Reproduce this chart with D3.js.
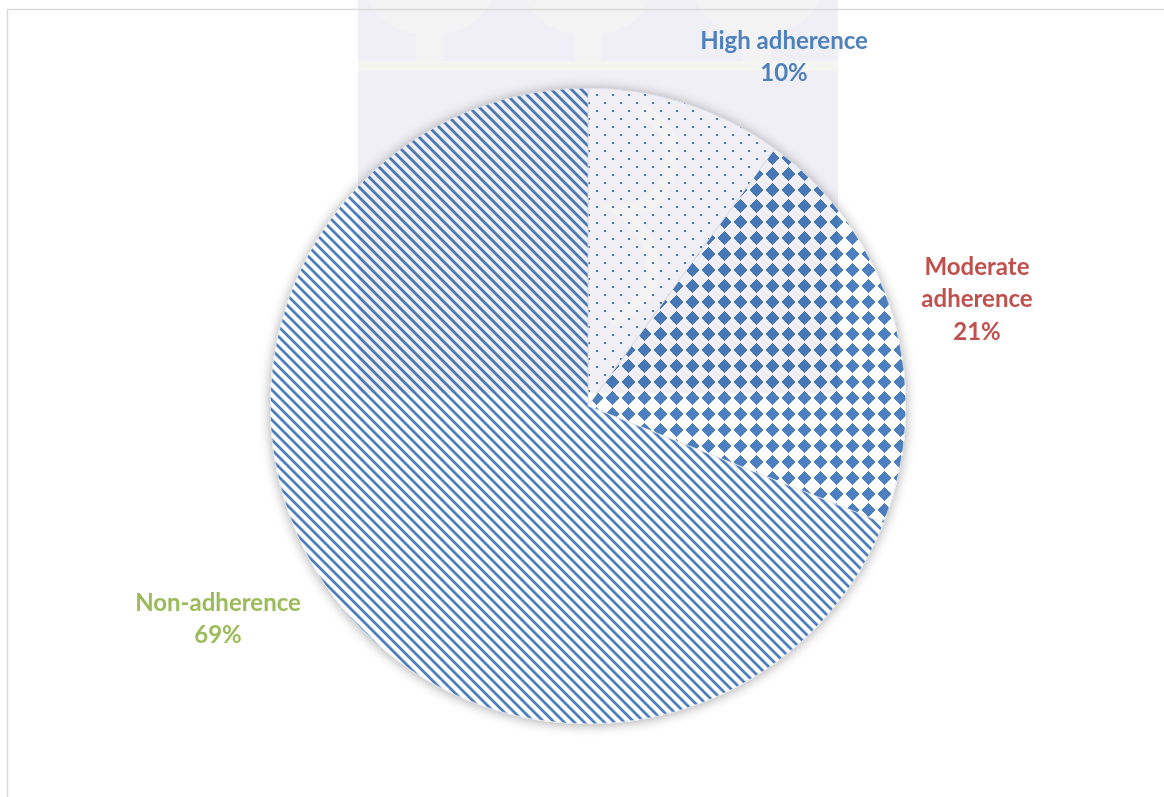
<!DOCTYPE html>
<html>
<head>
<meta charset="utf-8">
<script src="https://cdn.jsdelivr.net/npm/d3@7"></script>
<style>
  html, body { margin: 0; padding: 0; background: #ffffff; }
  svg { display: block; }
</style>
</head>
<body>
<svg id="chart" width="1164" height="797"></svg>
<script>
// ---- data ----
const categories = ["High adherence", "Moderate adherence", "Non-adherence"];
const values = [10, 21, 69];
const percentLabels = ["10%", "21%", "69%"];
const labelLines = [["High adherence"], ["Moderate", "adherence"], ["Non-adherence"]];
const labelColors = ["#4f81bd", "#c0504d", "#9bbb59"];
const patternIds = ["pDots", "pDiamonds", "pStripes"];

// ---- layout ----
const W = 1164, H = 797;
const cx = 588, cy = 406, R = 318;
const blue = "#4d7fbe";

const svg = d3.select("#chart");
const defs = svg.append("defs");

// drop shadow
const f = defs.append("filter").attr("id", "shadow")
  .attr("x", "-10%").attr("y", "-10%").attr("width", "120%").attr("height", "120%");
f.append("feDropShadow").attr("dx", 0).attr("dy", 1).attr("stdDeviation", 6)
  .attr("flood-color", "#000").attr("flood-opacity", 0.35);

// dots pattern
const pd = defs.append("pattern").attr("id", "pDots").attr("patternUnits", "userSpaceOnUse")
  .attr("width", 16).attr("height", 16);
pd.append("rect").attr("width", 16).attr("height", 16).attr("fill", "#fff");
pd.append("rect").attr("x", 0).attr("y", 0).attr("width", 2).attr("height", 2).attr("fill", blue);
pd.append("rect").attr("x", 8).attr("y", 8).attr("width", 2).attr("height", 2).attr("fill", blue);

// diamonds pattern
const pm = defs.append("pattern").attr("id", "pDiamonds").attr("patternUnits", "userSpaceOnUse")
  .attr("width", 16).attr("height", 16);
pm.append("rect").attr("width", 16).attr("height", 16).attr("fill", "#fff");
pm.append("path").attr("d", "M8,1 L15,8 L8,15 L1,8 Z")
  .attr("fill", blue).attr("shape-rendering", "crispEdges");

// stripes pattern
const ps = defs.append("pattern").attr("id", "pStripes").attr("patternUnits", "userSpaceOnUse")
  .attr("width", 10).attr("height", 10);
ps.append("rect").attr("width", 10).attr("height", 10).attr("fill", "#fff");
ps.append("path").attr("d", "M-2,-2 L12,12 M-2,8 L2,12 M8,-2 L12,2")
  .attr("stroke", blue).attr("stroke-width", 2.8).attr("fill", "none");

// ---- pie ----
const pie = d3.pie().sort(null).value(d => d)(values);
const arc = d3.arc().innerRadius(0).outerRadius(R);

const g = svg.append("g").attr("transform", `translate(${cx},${cy})`);
g.append("circle").attr("r", R).attr("fill", "#fff").attr("filter", "url(#shadow)");
g.selectAll("path.slice").data(pie).enter().append("path")
  .attr("class", "slice")
  .attr("d", arc)
  .attr("fill", (d, i) => `url(#${patternIds[i]})`)
  .attr("stroke", "#e4e4ea").attr("stroke-width", 0.8);

// ---- faint watermark overlay ----
const wm = svg.append("g").style("mix-blend-mode", "multiply");
wm.append("rect").attr("x", 358).attr("y", 0).attr("width", 480).attr("height", 393).attr("fill", "#efeff5");
const cream = "#f3f3f3";
wm.append("rect").attr("x", 358).attr("y", 61).attr("width", 480).attr("height", 10).attr("fill", "#f5f5f2");
[430, 588, 757].forEach(x => {
  wm.append("path")
    .attr("d", `M${x-62},0 Q${x-50},28 ${x-14},34 L${x-14},61 L${x+14},61 L${x+14},34 Q${x+50},28 ${x+62},0 Z`)
    .attr("fill", cream);
});
wm.append("path").attr("d", "M640,110 q40,20 30,60 q-10,40 -50,40 q40,30 30,70 q-8,30 -40,40")
  .attr("stroke", "#f3f3f3").attr("stroke-width", 14).attr("fill", "none");

// ---- border ----
svg.append("line").attr("x1", 7).attr("x2", W).attr("y1", 9.5).attr("y2", 9.5)
  .attr("stroke", "#d9d9d9").attr("stroke-width", 1.5);
svg.append("line").attr("x1", 7.5).attr("x2", 7.5).attr("y1", 9).attr("y2", H)
  .attr("stroke", "#d9d9d9").attr("stroke-width", 1.5);

// ---- labels ----
const fontFamily = "Lato, 'Open Sans', sans-serif";
const probe = svg.append("text").attr("font-family", fontFamily).attr("font-weight", 700)
  .attr("font-size", 20).text(labelLines[0][0]);
const w20 = probe.node().getComputedTextLength();
probe.remove();
const fs = Math.min(24, 20 * 173 / w20);

const labelPos = [
  { x: 784, y: 48.5 },
  { x: 977, y: 275 },
  { x: 218, y: 610.5 }
];
const lineH = 32.3;

labelLines.forEach((lines, i) => {
  const t = svg.append("text")
    .attr("font-family", fontFamily).attr("font-weight", 700)
    .attr("font-size", fs).attr("fill", labelColors[i])
    .attr("text-anchor", "middle");
  lines.concat([percentLabels[i]]).forEach((s, k) => {
    t.append("tspan").attr("x", labelPos[i].x).attr("y", labelPos[i].y + k * lineH).text(s);
  });
});
</script>
</body>
</html>
